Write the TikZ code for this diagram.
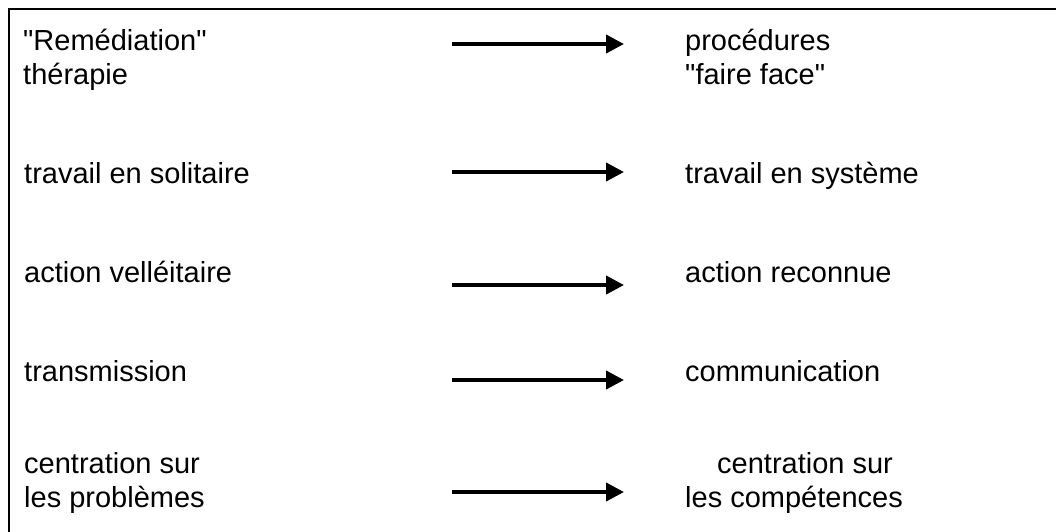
\documentclass[tikz,border=0pt]{standalone}
\usepackage{fontspec}
\setmainfont{Liberation Sans}
\usetikzlibrary{arrows.meta,positioning}

\begin{document}
\begin{tikzpicture}[x=1pt,y=-1pt,
  every node/.style={inner sep=0pt,anchor=base west,align=left,
    font=\fontsize{29}{34}\selectfont},
  passage/.style={line width=4pt,-{Triangle[length=18pt,width=18pt]}}]
  \useasboundingbox (0,0) rectangle (1056,531);
  % cadre (coupe a droite et en bas)
  \draw[line width=2pt] (1070,8.5) -- (8.5,8.5) -- (8.5,545);
  % colonne de gauche (base = derniere ligne)
  \node (avant1) at (23,84) {\textquotedbl Remédiation\textquotedbl\\thérapie};
  \node (avant2) at (24,183) {travail en solitaire};
  \node (avant3) at (24,282) {action velléitaire};
  \node (avant4) at (24,381) {transmission};
  \node (avant5) at (24,507) {centration sur\\les problèmes};
  % colonne de droite
  \node (apres1) at (685,84) {procédures\\\textquotedbl faire face\textquotedbl};
  \node (apres2) at (685,183) {travail en système};
  \node (apres3) at (685,282) {action reconnue};
  \node (apres4) at (685,381) {communication};
  \node (apres5) at (685,507) {\hspace*{32pt}centration sur\\les compétences};
  % fleches
  \foreach \r/\y in {1/44, 2/172, 3/285, 4/380, 5/492}{
    \coordinate (de\r) at (452,\y);
    \coordinate (vers\r) at (624,\y);
    \draw[passage] (de\r) -- (vers\r);
  }
\end{tikzpicture}
\end{document}
